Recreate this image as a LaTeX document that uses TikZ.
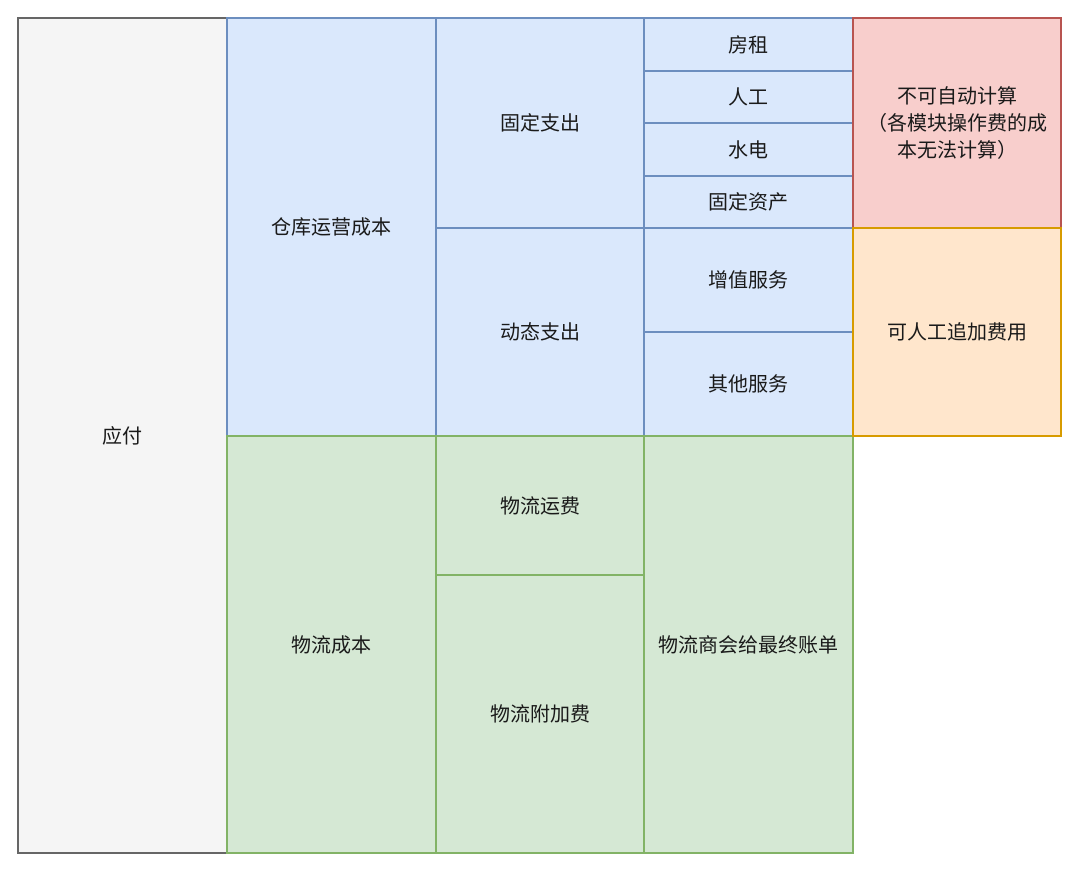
\documentclass[tikz,border=0pt]{standalone}
\usepackage{fontspec}
\setmainfont{Noto Sans CJK SC}
\usepackage{tikz}
\usetikzlibrary{positioning}
\definecolor{grayfill}{HTML}{F5F5F5}
\definecolor{graydraw}{HTML}{666666}
\definecolor{bluefill}{HTML}{DAE8FC}
\definecolor{bluedraw}{HTML}{6C8EBF}
\definecolor{greenfill}{HTML}{D5E8D4}
\definecolor{greendraw}{HTML}{82B366}
\definecolor{redfill}{HTML}{F8CECC}
\definecolor{reddraw}{HTML}{B85450}
\definecolor{orangefill}{HTML}{FFE6CC}
\definecolor{orangedraw}{HTML}{D79B00}
\definecolor{textc}{HTML}{1A1A1A}

\begin{document}
\begin{tikzpicture}[x=1pt,y=-1pt,
        cell/.style={rectangle,anchor=north west,inner sep=0,outer sep=0,line width=1.6pt,
            align=center,text=textc,font=\fontsize{20}{27}\selectfont},
        graycell/.style={cell,fill=grayfill,draw=graydraw},
        bluecell/.style={cell,fill=bluefill,draw=bluedraw},
        greencell/.style={cell,fill=greenfill,draw=greendraw},
        redcell/.style={cell,fill=redfill,draw=reddraw},
        orangecell/.style={cell,fill=orangefill,draw=orangedraw}]
    \useasboundingbox (0,0) rectangle (1080,871);
    % column 1
    \node[graycell,minimum width=209,minimum height=835] (yingfu) at (18,18) {应付};
    % column 2
    \node[bluecell,minimum width=209,minimum height=418] (cangku) at (227,18) {仓库运营成本};
    \node[greencell,minimum width=209,minimum height=417] (wuliu) at (227,436) {物流成本};
    % column 3
    \node[bluecell,minimum width=208,minimum height=210] (guding) at (436,18) {固定支出};
    \node[bluecell,minimum width=208,minimum height=208] (dongtai) at (436,228) {动态支出};
    \node[greencell,minimum width=208,minimum height=139] (yunfei) at (436,436) {物流运费};
    \node[greencell,minimum width=208,minimum height=278] (fujia) at (436,575) {物流附加费};
    % column 4
    \node[bluecell,minimum width=209,minimum height=53] (fangzu) at (644,18) {房租};
    \node[bluecell,minimum width=209,minimum height=52] (rengong) at (644,71) {人工};
    \node[bluecell,minimum width=209,minimum height=53] (shuidian) at (644,123) {水电};
    \node[bluecell,minimum width=209,minimum height=52] (zichan) at (644,176) {固定资产};
    \node[bluecell,minimum width=209,minimum height=104] (zengzhi) at (644,228) {增值服务};
    \node[bluecell,minimum width=209,minimum height=104] (qita) at (644,332) {其他服务};
    \node[greencell,minimum width=209,minimum height=417] (zhangdan) at (644,436) {物流商会给最终账单};
    % column 5
    \node[redcell,minimum width=208,minimum height=210] (buke) at (853,18) {不可自动计算\\（各模块操作费的成\\本无法计算）};
    \node[orangecell,minimum width=208,minimum height=208] (zhuijia) at (853,228) {可人工追加费用};
\end{tikzpicture}
\end{document}
